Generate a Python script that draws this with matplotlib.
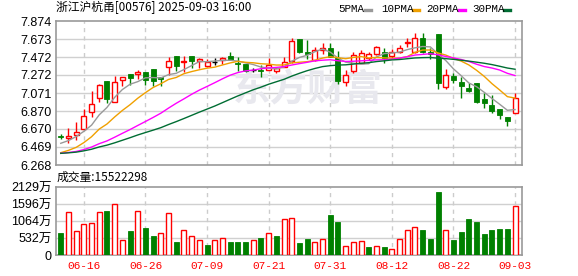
import matplotlib
matplotlib.use("Agg")
import matplotlib.pyplot as plt
from matplotlib.lines import Line2D
import pandas as pd

plt.rcParams['font.family'] = ['Liberation Sans', 'Noto Sans CJK SC']

# trading days shown (HK market)
dates = ["06-11", "06-12", "06-13", "06-16", "06-17", "06-18", "06-19", "06-20", "06-23", "06-24",
         "06-25", "06-26", "06-27", "06-30", "07-02", "07-03", "07-04", "07-07", "07-08", "07-09",
         "07-10", "07-11", "07-14", "07-15", "07-16", "07-17", "07-18", "07-21", "07-22", "07-23",
         "07-24", "07-25", "07-28", "07-29", "07-30", "07-31", "08-01", "08-04", "08-05", "08-06",
         "08-07", "08-08", "08-11", "08-12", "08-13", "08-14", "08-15", "08-18", "08-19", "08-20",
         "08-21", "08-22", "08-25", "08-26", "08-27", "08-28", "08-29", "09-01", "09-02", "09-03"]

opens = [6.590, 6.566, 6.599, 6.666, 6.856, 7.012, 7.205, 6.967, 7.213, 7.279,
         7.283, 7.302, 7.339, 7.253, 7.358, 7.484, 7.415, 7.484, 7.431, 7.376,
         7.417, 7.442, 7.484, 7.410, 7.394, 7.324, 7.330, 7.324, 7.316, 7.365,
         7.431, 7.670, 7.525, 7.439, 7.551, 7.570, 7.458, 7.197, 7.320, 7.409,
         7.458, 7.503, 7.532, 7.484, 7.532, 7.630, 7.532, 7.681, 7.532, 7.729,
         7.141, 7.261, 7.197, 7.130, 7.179, 7.001, 6.937, 6.893, 6.800, 6.851]
highs = [6.610, 6.677, 6.744, 6.889, 7.093, 7.168, 7.205, 7.261, 7.246, 7.279,
         7.327, 7.302, 7.339, 7.253, 7.476, 7.484, 7.484, 7.484, 7.465, 7.447,
         7.465, 7.476, 7.532, 7.473, 7.394, 7.346, 7.383, 7.465, 7.365, 7.476,
         7.688, 7.670, 7.662, 7.587, 7.625, 7.625, 7.539, 7.327, 7.525, 7.551,
         7.532, 7.595, 7.570, 7.558, 7.606, 7.681, 7.737, 7.744, 7.570, 7.729,
         7.339, 7.291, 7.246, 7.179, 7.179, 7.068, 7.049, 6.893, 6.800, 7.068]
lows = [6.560, 6.517, 6.547, 6.660, 6.807, 6.974, 6.956, 6.967, 7.149, 7.160,
        7.224, 7.160, 7.149, 7.149, 7.272, 7.316, 7.309, 7.346, 7.353, 7.365,
        7.383, 7.394, 7.439, 7.316, 7.309, 7.309, 7.253, 7.324, 7.291, 7.365,
        7.402, 7.520, 7.447, 7.428, 7.503, 7.476, 7.168, 7.149, 7.291, 7.402,
        7.439, 7.495, 7.402, 7.458, 7.514, 7.587, 7.520, 7.514, 7.447, 7.112,
        7.112, 7.186, 7.019, 7.086, 6.963, 6.900, 6.851, 6.781, 6.703, 6.851]
closes = [6.580, 6.592, 6.633, 6.811, 6.945, 7.157, 7.001, 7.197, 7.246, 7.242,
          7.302, 7.216, 7.210, 7.224, 7.428, 7.376, 7.425, 7.430, 7.450, 7.417,
          7.417, 7.458, 7.439, 7.400, 7.320, 7.324, 7.318, 7.383, 7.353, 7.420,
          7.651, 7.532, 7.503, 7.551, 7.570, 7.476, 7.205, 7.272, 7.495, 7.514,
          7.503, 7.581, 7.458, 7.525, 7.570, 7.640, 7.681, 7.532, 7.503, 7.179,
          7.272, 7.216, 7.149, 7.097, 6.974, 6.956, 6.874, 6.826, 6.762, 7.012]
# closes before the window, estimated so the averages start where the picture shows
prior_closes = [6.42, 6.40, 6.38, 6.41, 6.39, 6.40, 6.42, 6.39, 6.38, 6.39,
                6.40, 6.41, 6.39, 6.38, 6.40, 6.39, 6.37, 6.38, 6.40, 6.39,
                6.33, 6.30, 6.28, 6.29, 6.30, 6.44, 6.41, 6.52, 6.60]
# volume in 万
volumes = [695, 1353, 747, 962, 1015, 1353, 1393, 1599, 470, 747,
           1393, 839, 593, 686, 1322, 419, 778, 593, 492, 317,
           470, 553, 419, 419, 419, 470, 532, 686, 593, 1138,
           1168, 378, 501, 400, 523, 1270, 1024, 277, 400, 461,
           255, 277, 255, 184, 523, 800, 892, 778, 501, 1977,
           800, 470, 716, 1147, 1024, 655, 778, 809, 809, 1552.2298]

price_ticks = [6.268, 6.469, 6.670, 6.870, 7.071, 7.272, 7.472, 7.673, 7.874]
price_labels = ["6.268", "6.469", "6.670", "6.870", "7.071", "7.272", "7.472", "7.673", "7.874"]
vol_ticks = [0, 532, 1064, 1596, 2129]
vol_labels = ["0", "532万", "1064万", "1596万", "2129万"]
date_ticks = ["06-16", "06-26", "07-09", "07-21", "07-31", "08-12", "08-22", "09-03"]

ma_periods = [5, 10, 20, 30]
ma_colors = ["#999999", "#f0a000", "#ff00ff", "#006d33"]

RED = "#ff0000"
GREEN = "#008000"
W = 578
H = 276


def fx(px):
    return px / W


def fy(py):
    return 1 - py / H


def style_axes(ax):
    for s in ax.spines.values():
        s.set_color("#999999")
        s.set_linewidth(1.2)
    ax.tick_params(length=0, labelsize=9, pad=3)
    ax.set_xlim(-0.68, len(dates) - 0.1)


def main():
    fig = plt.figure(figsize=(W / 100, H / 100), dpi=100)
    ax1 = fig.add_axes([fx(55.5), fy(165), fx(522) - fx(55.5), fy(21) - fy(165)])
    ax2 = fig.add_axes([fx(55.5), fy(255.3), fx(522) - fx(55.5), fy(187) - fy(255.3)])

    n = len(dates)
    xs = list(range(n))
    tick_pos = [dates.index(d) for d in date_ticks]

    # price panel
    style_axes(ax1)
    ax1.set_ylim(price_ticks[0], price_ticks[-1])
    ax1.set_yticks(price_ticks)
    ax1.set_yticklabels(price_labels)
    ax1.set_xticks(tick_pos)
    ax1.set_xticklabels([])
    for t in price_ticks[1:-1]:
        ax1.axhline(t, color="#d0d0d0", lw=1, zorder=0)
    for p in tick_pos:
        ax1.axvline(p, color="#cccccc", lw=1, ls=(0, (3, 3)), zorder=0)

    ax1.text(0.54, 0.52, "东方财富", transform=ax1.transAxes, fontsize=27, fontweight="bold",
             color="#e8e8ee", ha="center", va="center", family="Noto Sans CJK SC", zorder=0)

    bw = 0.65
    for i in xs:
        o, h, l, c = opens[i], highs[i], lows[i], closes[i]
        if c > o:
            col = RED
        elif c < o:
            col = GREEN
        else:
            col = "black"
        ax1.vlines(i, l, h, color=col, lw=1, zorder=2)
        if c == o:
            ax1.hlines(c, i - bw / 2, i + bw / 2, color=col, lw=1, zorder=3)
        elif c > o:
            ax1.bar(i, c - o, bottom=o, width=bw, facecolor="white", edgecolor=col, lw=1, zorder=3)
        else:
            ax1.bar(i, max(o - c, 0.008), bottom=c, width=bw, facecolor=col, edgecolor=col, lw=0.6, zorder=3)

    allc = pd.Series(prior_closes + closes)
    for p, col in zip(ma_periods, ma_colors):
        ma = allc.rolling(p).mean().iloc[-n:].values
        ax1.plot(xs, ma, color=col, lw=1, zorder=4)

    # volume panel
    style_axes(ax2)
    ax2.set_ylim(0, vol_ticks[-1])
    ax2.set_yticks(vol_ticks)
    ax2.set_yticklabels(vol_labels)
    ax2.set_xticks(tick_pos)
    ax2.set_xticklabels(date_ticks, color=RED, family="Liberation Mono", fontsize=8)
    ax2.tick_params(axis="x", pad=4)
    for t in vol_ticks[1:-1]:
        ax2.axhline(t, color="#d0d0d0", lw=1, zorder=0)
    for p in tick_pos:
        ax2.axvline(p, color="#cccccc", lw=1, ls=(0, (3, 3)), zorder=0)
    prev = [prior_closes[-1]] + closes[:-1]
    for i in xs:
        if closes[i] >= prev[i]:
            ax2.bar(i, volumes[i], width=bw, facecolor="white", edgecolor=RED, lw=1, zorder=3)
        else:
            ax2.bar(i, volumes[i], width=bw, facecolor=GREEN, edgecolor=GREEN, lw=0.6, zorder=3)

    # texts
    fig.text(fx(56), fy(8), "浙江沪杭甬[00576] 2025-09-03 16:00", fontsize=8.5,
             family="Noto Sans CJK SC", va="center", ha="left")
    fig.text(fx(57), fy(177), "成交量:%d" % round(volumes[-1] * 10000), fontsize=8.5,
             family="Noto Sans CJK SC", va="center", ha="left")

    # MA legend at the top right
    leg_text_x = [338, 381, 426, 472]
    leg_dash_x = [365, 413, 459, 504]
    for k, (p, col) in enumerate(zip(ma_periods, ma_colors)):
        fig.text(fx(leg_text_x[k]), fy(9.5), "%dPMA" % p, fontsize=7.8, family="Liberation Mono",
                 va="center", ha="left")
        x0 = leg_dash_x[k]
        fig.add_artist(Line2D([fx(x0), fx(x0 + 6)], [fy(9.5), fy(9.5)], color=col, lw=2.4,
                              transform=fig.transFigure))

    fig.savefig("out.png", dpi=100)
    plt.close(fig)


if __name__ == '__main__':
    main()
